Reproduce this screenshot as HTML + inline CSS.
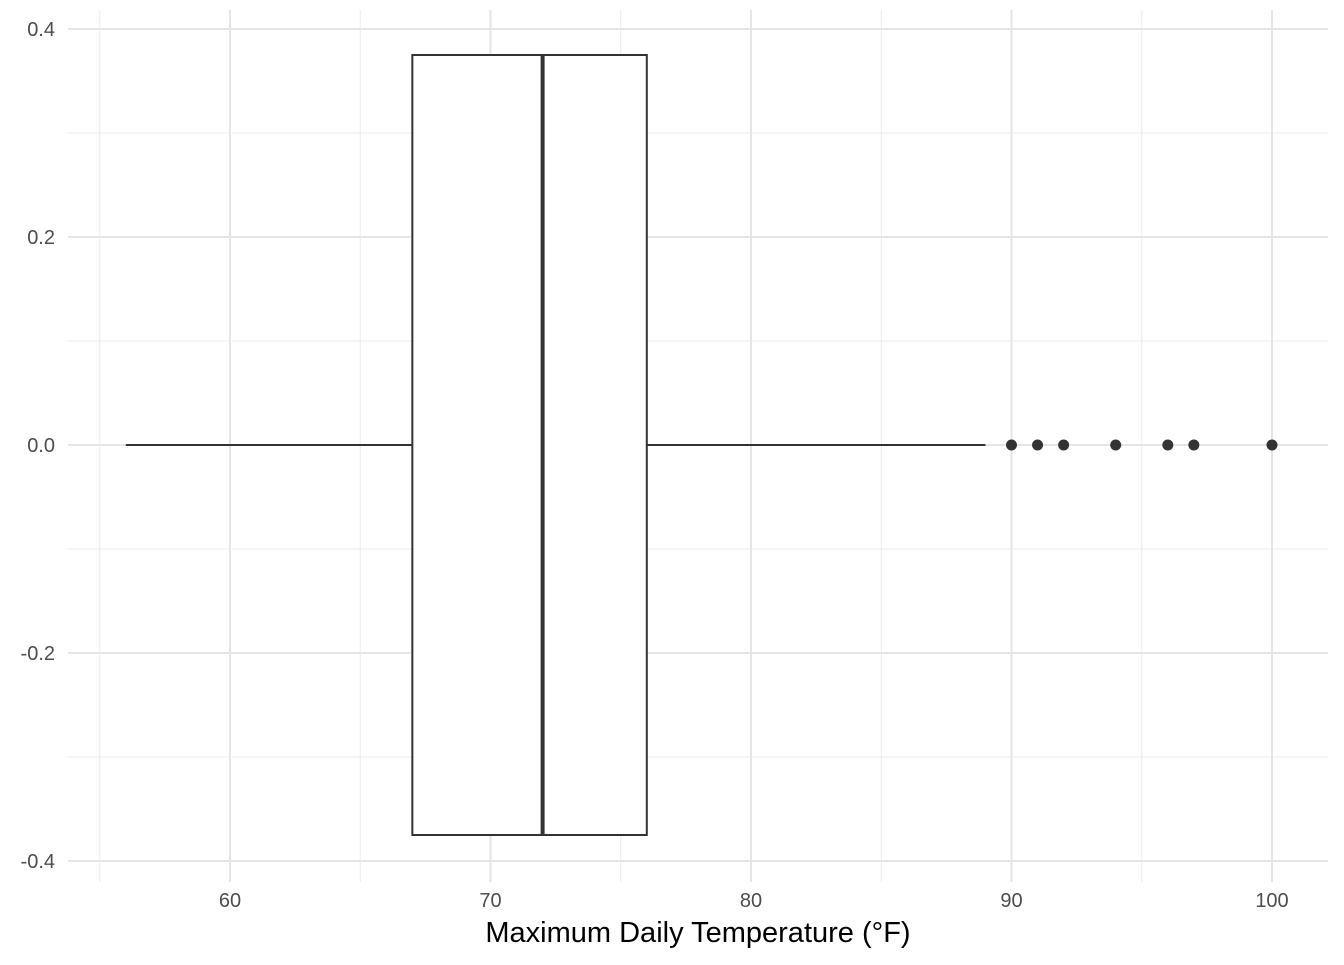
<!DOCTYPE html>
<html><head><meta charset="utf-8"><style>
body{margin:0;background:#fff}
svg text{font-family:"Liberation Sans",sans-serif}
</style></head><body>
<svg id="c" width="1344" height="960"></svg>
<script>
const xTicks=[60,70,80,90,100];
const xMinor=[55,65,75,85,95];
const yTicks=[-0.4,-0.2,0,0.2,0.4];
const yMinor=[-0.3,-0.1,0.1,0.3];
const boxStats=[56,67,72,76,89]; // whiskerLow, q1, median, q3, whiskerHigh
const outliers=[90,91,92,94,96,97,100];
const boxHalfWidth=[0.375];
const svg=document.getElementById('c');
const NS='http://www.w3.org/2000/svg';
const X=v=>230+(v-60)*26.05;
const Y=v=>445-v*1040;
function el(t,a,txt){const e=document.createElementNS(NS,t);for(const k in a)e.setAttribute(k,a[k]);if(txt!==undefined)e.textContent=txt;svg.appendChild(e);return e;}
const L=68,R=1328,T=10,B=882;
xMinor.forEach(v=>{const e=el('line',{x1:X(v),x2:X(v),y1:T,y2:B,stroke:'#ebebeb','stroke-width':1});
});
yMinor.forEach(v=>{const e=el('line',{x1:L,x2:R,y1:Y(v),y2:Y(v),stroke:'#ebebeb','stroke-width':1});
});
xTicks.forEach(v=>{const e=el('line',{x1:X(v),x2:X(v),y1:T,y2:B,stroke:'#e5e5e5','stroke-width':2});

const t=el('text',{x:X(v),y:907,'text-anchor':'middle','font-size':20,fill:'#4d4d4d'},v);
});
yTicks.forEach(v=>{const e=el('line',{x1:L,x2:R,y1:Y(v),y2:Y(v),stroke:'#e5e5e5','stroke-width':2});

const t=el('text',{x:55,y:Y(v)+7,'text-anchor':'end','font-size':20,fill:'#4d4d4d'},v.toFixed(1));
});
const [wl,q1,md,q3,wh]=boxStats,hw=boxHalfWidth[0];
let e=el('line',{x1:X(wl),x2:X(q1),y1:Y(0),y2:Y(0),stroke:'#333','stroke-width':2});

e=el('line',{x1:X(q3),x2:X(wh),y1:Y(0),y2:Y(0),stroke:'#333','stroke-width':2});

e=el('rect',{x:X(q1),y:Y(hw),width:X(q3)-X(q1),height:Y(-hw)-Y(hw),fill:'#fff',stroke:'#333','stroke-width':2});

e=el('line',{x1:X(md),x2:X(md),y1:Y(hw),y2:Y(-hw),stroke:'#333','stroke-width':4});

outliers.forEach(v=>{const c=el('circle',{cx:X(v),cy:Y(0),r:5.5,fill:'#333'});
});
e=el('text',{x:698,y:942,'text-anchor':'middle','font-size':29,fill:'#000'},'Maximum Daily Temperature (°F)');

</script>
</body></html>
